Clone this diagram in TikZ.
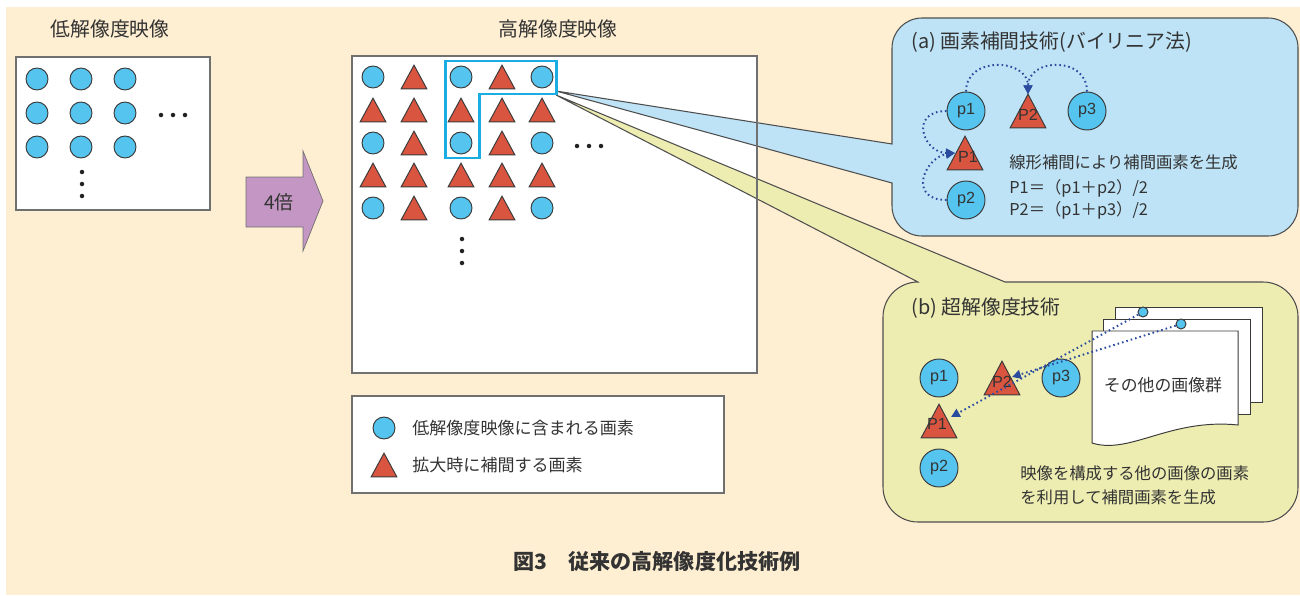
\documentclass[tikz,border=0pt]{standalone}
\usepackage{fontspec}
\setmainfont{Noto Sans CJK JP}
\newfontfamily\lat{Liberation Sans}
\usetikzlibrary{shapes.geometric,arrows.meta}
\definecolor{cream}{HTML}{FFEFD2}
\definecolor{lblue}{HTML}{BEE3F6}
\definecolor{ylw}{HTML}{EDEDB2}
\definecolor{pixblue}{HTML}{55C5EF}
\definecolor{trired}{HTML}{D9553F}
\definecolor{purp}{HTML}{C396C3}
\definecolor{hlcyan}{HTML}{1AADE3}
\definecolor{darrc}{HTML}{2A4B9E}
\definecolor{shapeline}{HTML}{3A3A3A}
\definecolor{boxline}{HTML}{707070}
\definecolor{txt}{HTML}{333333}
\definecolor{dotc}{HTML}{222222}
\newcommand\fsTitle{\fontsize{11.3pt}{13pt}\selectfont}
\newcommand\fsBody{\fontsize{9.3pt}{11pt}\selectfont}
\newcommand\fsLeg{\fontsize{9.7pt}{11pt}\selectfont}
\begin{document}
\begin{tikzpicture}[x=0.02cm,y=-0.02cm,
  outl/.style={draw=shapeline, line width=0.55pt},
  pix/.style={circle, outl, fill=pixblue, minimum size=0.44cm, inner sep=0pt},
  bigpix/.style={circle, outl, fill=pixblue, minimum size=0.76cm, inner sep=0pt, text=txt, font=\lat\fontsize{9.2pt}{10pt}\selectfont},
  smallpix/.style={circle, outl, fill=pixblue, minimum size=0.2cm, inner sep=0pt},
  tri/.style={rectangle, inner sep=0pt, minimum width=0.5cm, minimum height=0.46cm,
    append after command={\pgfextra{\draw[outl, fill=trired] (\tikzlastnode.north) -- (\tikzlastnode.south east) -- (\tikzlastnode.south west) -- cycle;}}},
  bigtri/.style={tri, minimum width=0.7cm, minimum height=0.66cm},
  trilab/.style={inner sep=0pt, text=txt, font=\lat\fontsize{9.2pt}{10pt}\selectfont},
  boxl/.style={draw=boxline, line width=0.7pt},
  callout/.style={draw=shapeline!90, line width=0.6pt},
  ttl/.style={inner sep=0pt, text=txt, font=\fsTitle},
  bodytxt/.style={inner sep=0pt, text=txt, font=\fsBody, anchor=west},
  legtxt/.style={inner sep=0pt, text=txt, font=\fsLeg, anchor=west},
  darr/.style={draw=darrc, line width=1.1pt, dash pattern=on 0.9pt off 1.7pt, -{Triangle[length=5pt,width=5pt]}},
  hl/.style={draw=hlcyan, line width=1.7pt}
]
\useasboundingbox (0,0) rectangle (1300,595);
\fill[white] (0,0) rectangle (1300,595);
\fill[cream] (6,7) rectangle (1300,595);

% titles
\node[ttl] (t1) at (110,29) {低解像度映像};
\node[ttl] (t2) at (558,29) {高解像度映像};

% low resolution image
\draw[boxl, fill=white] (16,57) rectangle (210,210);
\foreach \r/\yy in {1/79,2/113,3/147}
  \foreach \c/\xx in {1/37,2/81,3/125}
    \node[pix] (l\r\c) at (\xx,\yy) {};
\foreach \xx in {161,173,185} \fill[dotc] (\xx,115) circle[radius=0.045cm];
\foreach \yy in {172,184,196} \fill[dotc] (82,\yy) circle[radius=0.045cm];

% 4x arrow
\draw[fill=purp, draw=boxline, line width=0.4pt] (246,177) -- (303,177) -- (303,151) -- (323,201) -- (303,251) -- (303,227) -- (246,227) -- cycle;
\node[ttl, font=\fontsize{10.8pt}{12pt}\selectfont] (four) at (279,202) {4倍};

% high resolution image (fill)
\fill[white] (352,56) rectangle (757,373);

% callout (b)
\draw[callout, fill=ylw] (1005,282) -- (1263,282) .. controls +(19.3,0) and +(0,-19.3) .. (1298,317) -- (1298,487) .. controls +(0,19.3) and +(19.3,0) .. (1263,522) -- (918,522) .. controls +(-19.3,0) and +(0,19.3) .. (883,487) -- (883,317) .. controls +(0,-19.3) and +(-19.3,0) .. (918,282) -- (556,95) -- cycle;
% callout (a)
\draw[callout, fill=lblue] (892,144) -- (892,48) .. controls +(0,-16.6) and +(-16.6,0) .. (922,18) -- (1268,18) .. controls +(16.6,0) and +(0,-16.6) .. (1298,48) -- (1298,206) .. controls +(0,16.6) and +(16.6,0) .. (1268,236) -- (922,236) .. controls +(-16.6,0) and +(0,16.6) .. (892,206) -- (892,183) -- (556,91) -- cycle;

% high resolution image border and pixels
\draw[boxl] (352,56) rectangle (757,373);
\foreach \r/\yy in {1/77,2/110,3/143,4/175,5/208}
  \foreach \c/\xx in {1/373,2/414,3/461,4/502,5/542} {
    \pgfmathtruncatemacro\isc{(mod(\r,2)==1)&&(mod(\c,2)==1)}
    \ifnum\isc=1
      \node[pix] (h\r\c) at (\xx,\yy) {};
    \else
      \node[tri] (h\r\c) at (\xx,\yy) {};
    \fi
  }
\foreach \xx in {577,589,601} \fill[dotc] (\xx,146) circle[radius=0.045cm];
\foreach \yy in {239,251,263} \fill[dotc] (462,\yy) circle[radius=0.045cm];
\draw[hl] (445,61) -- (556,61) -- (556,94) -- (479,94) -- (479,158) -- (445,158) -- cycle;

% panel (a)
\node[ttl, anchor=west] (atitle) at (911,42) {(a) 画素補間技術(バイリニア法)};
\node[bigpix] (a1) at (966,111) {p1};
\node[bigtri] (aP2) at (1028,111) {};
\node[trilab] (aP2t) at (1028,115) {P2};
\node[bigpix] (a3) at (1087,111) {p3};
\node[bigtri] (aP1) at (965,153) {};
\node[trilab] (aP1t) at (968,157) {P1};
\node[bigpix] (a2) at (966,200) {p2};
\coordinate (aP1in) at (955,153);
\draw[darr] (a1.north) .. controls +(0,-36) and +(0,-36) .. (aP2.north);
\draw[darr] (a3.north) .. controls +(0,-36) and +(0,-36) .. (aP2.north);
\draw[darr] (a1.west) .. controls +(-38,0) and +(-32,0) .. (aP1in);
\draw[darr] (a2.west) .. controls +(-40,0) and +(-30,4) .. (aP1in);
\node[bodytxt] (atx1) at (1009,162) {線形補間により補間画素を生成};
\node[bodytxt] (atx2) at (1009,188) {P1＝（p1＋p2）/2};
\node[bodytxt] (atx3) at (1009,210) {P2＝（p1＋p3）/2};

% panel (b)
\node[ttl, anchor=west] (btitle) at (911,308) {(b) 超解像度技術};
\draw[outl, fill=white] (1115,307) rectangle (1262,402);
\draw[outl, fill=white] (1103,319) rectangle (1250,414);
\draw[outl, fill=white] (1092,331) -- (1238,331) -- (1238,425) .. controls (1170,418) and (1130,455) .. (1092,443) -- cycle;
\node[bodytxt, anchor=center, font=\fontsize{9.6pt}{11pt}\selectfont] (pages) at (1163,385) {その他の画像群};
\node[smallpix] (bc1) at (1143,312) {};
\node[smallpix] (bc2) at (1181,324) {};
\node[bigpix] (b1) at (939,378) {p1};
\node[bigtri] (bP2) at (1002,378) {};
\node[trilab] (bP2t) at (1002,382) {P2};
\node[bigpix] (b3) at (1061,378) {p3};
\node[bigtri] (bP1) at (939,421) {};
\node[trilab] (bP1t) at (937,424) {P1};
\node[bigpix] (b2) at (939,468) {p2};
\coordinate (bP1in) at (951,417);
\coordinate (bP2in) at (1012,377);
\draw[darr] (bc1) -- (bP1in);
\draw[darr] (bc2) -- (bP2in);
\node[bodytxt] (btx1) at (1020,473) {映像を構成する他の画像の画素};
\node[bodytxt] (btx2) at (1020,497) {を利用して補間画素を生成};

% legend
\draw[boxl, fill=white] (352,396) rectangle (724,493);
\node[pix] (lgc) at (384,428) {};
\node[tri] (lgt) at (384,465) {};
\node[legtxt] (lgct) at (412,428) {低解像度映像に含まれる画素};
\node[legtxt] (lgtt) at (412,465) {拡大時に補間する画素};

% caption
\node[inner sep=0pt, text=txt, font=\fontsize{12pt}{14pt}\selectfont\bfseries] (cap) at (657,562) {図3\hspace{1em}従来の高解像度化技術例};
\end{tikzpicture}
\end{document}
